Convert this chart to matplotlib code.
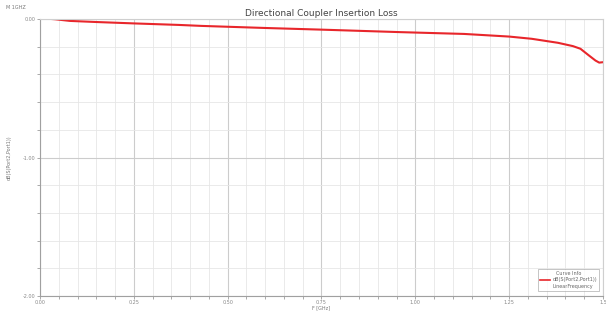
import matplotlib.pyplot as plt
from matplotlib.lines import Line2D
from matplotlib.ticker import MultipleLocator

# Valeurs (F en GHz, pertes en dB)
freq = [0.00, 0.02, 0.04, 0.08, 0.15, 0.25, 0.37, 0.43, 0.60, 0.75,
        0.96, 1.13, 1.25, 1.31, 1.38, 1.42, 1.44, 1.46, 1.48, 1.49, 1.50]
loss = [0.000, 0.002, -0.002, -0.014, -0.022, -0.032, -0.043, -0.050, -0.065, -0.077,
        -0.095, -0.108, -0.127, -0.143, -0.172, -0.196, -0.215, -0.258, -0.300, -0.315, -0.312]

xticks = [0.00, 0.25, 0.50, 0.75, 1.00, 1.25, 1.50]
xtick_labels = ["0.00", "0.25", "0.50", "0.75", "1.00", "1.25", "1.5"]
yticks = [0.00, -1.00, -2.00]
ytick_labels = ["0.00", "-1.00", "-2.00"]

fig = plt.figure(figsize=(6.06, 3.11), dpi=100)
ax = fig.add_axes([0.066, 0.048, 0.929, 0.891])

ax.plot(freq, loss, color='#e8262b', linewidth=1.5, label='dB(S(Port2,Port1))')

ax.set_xlim(0, 1.5)
ax.set_ylim(-2.0, 0.0)
ax.set_xticks(xticks)
ax.set_xticklabels(xtick_labels)
ax.set_yticks(yticks)
ax.set_yticklabels(ytick_labels)
ax.xaxis.set_minor_locator(MultipleLocator(0.05))
ax.yaxis.set_minor_locator(MultipleLocator(0.2))
ax.tick_params(which='both', labelsize=3.5, colors='#888888', length=2, width=0.5, pad=1)
ax.grid(True, which='minor', color='#e6e6e6', linewidth=0.6)
ax.grid(True, which='major', color='#cccccc', linewidth=0.8)
for s in ax.spines.values():
    s.set_color('#a0a0a0')
    s.set_linewidth(0.8)
ax.spines['top'].set_color('#cfcfcf')
ax.spines['right'].set_color('#cfcfcf')

ax.set_title("Directional Coupler Insertion Loss", fontsize=6.5, color='#444444', pad=2)
ax.set_xlabel("F [GHz]", fontsize=3.5, color='#777777', labelpad=0)
ax.set_ylabel("dB(S(Port2,Port1))", fontsize=3.5, color='#777777', labelpad=8)
fig.text(0.01, 0.975, "M 1GHZ", fontsize=3.5, color='#777777', va='center')

handles = [Line2D([], [], color='#e8262b', linewidth=1.2),
           Line2D([], [], color='none')]
leg = ax.legend(handles, ['dB(S(Port2,Port1))', 'LinearFrequency'],
                title='Curve Info', loc='lower right', fontsize=3.5, title_fontsize=3.5,
                frameon=True, fancybox=False, edgecolor='#999999', handlelength=2,
                borderpad=0.4, labelspacing=0.3, handletextpad=0.5,
                bbox_to_anchor=(0.997, 0.01))
leg.get_frame().set_linewidth(0.5)
for t in leg.get_texts():
    t.set_color('#666666')
leg.get_title().set_color('#666666')

fig.savefig("out.png", dpi=100)
